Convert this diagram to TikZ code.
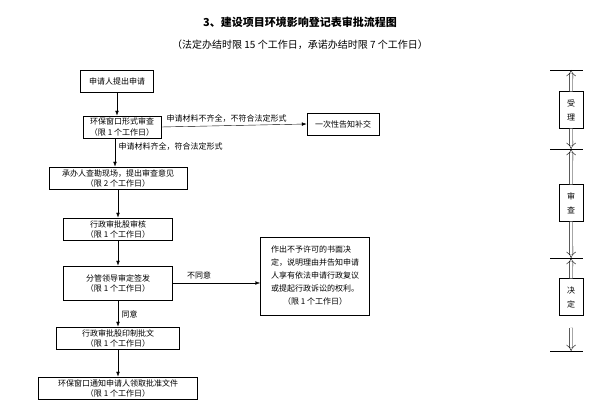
\documentclass[tikz,border=0pt]{standalone}
\usepackage{fontspec}
\setmainfont{Noto Sans CJK SC}
\usetikzlibrary{positioning, arrows, arrows.meta}

\begin{document}
\begin{tikzpicture}[x=1pt, y=-1pt, >=Latex, font=\fontsize{8}{10}\selectfont,
    box/.style={draw, thick, align=center, inner sep=2pt, minimum height=22pt},
    stagebox/.style={draw, align=center, minimum width=24pt, minimum height=37pt, inner sep=1pt},
    track/.style={double, double distance=3pt, thin, -{Implies}}]
  \useasboundingbox (0,0) rectangle (600,411);
  \node[font=\bfseries\fontsize{11}{13}\selectfont] (title) at (300,22) {3、建设项目环境影响登记表审批流程图};
  \node[font=\fontsize{10}{12}\selectfont] (sub) at (300,45) {（法定办结时限 15 个工作日，承诺办结时限 7 个工作日）};

  \node[box, minimum width=73pt] (0) at (117,81) {申请人提出申请};
  \node[box, minimum width=78pt] (1) at (122,127) {环保窗口形式审查\\（限 1 个工作日）};
  \node[box, minimum width=72pt] (r) at (343,124) {一次性告知补交};
  \node[box, minimum width=138pt] (2) at (118,178) {承办人查勘现场，提出审查意见\\（限 2 个工作日）};
  \node[box, minimum width=109pt] (3) at (118,229) {行政审批股审核\\（限 1 个工作日）};
  \node[box, minimum width=109pt, minimum height=34pt] (4) at (118,283) {分管领导审定签发\\（限 1 个工作日）};
  \node[box, minimum width=109pt, minimum height=78pt, align=left, font=\fontsize{8}{13}\selectfont] (n) at (315,276)
    {作出不予许可的书面决\\定，说明理由并告知申请\\人享有依法申请行政复议\\或提起行政诉讼的权利。\\\hspace*{1.5em}（限 1 个工作日）};
  \node[box, minimum width=123pt] (5) at (118,338) {行政审批股印制批文\\（限 1 个工作日）};
  \node[box, minimum width=159pt] (6) at (118,388) {环保窗口通知申请人领取批准文件\\（限 1 个工作日）};

  \path[->]
    (0.south) edge (0.south |- 1.north)
    (1.east) edge node[above, pos=0.45] {申请材料不齐全，不符合法定形式} (r.west)
    ([xshift=-7pt]1.south) edge node[right, pos=0.3] {申请材料齐全，符合法定形式} ([xshift=-3pt]2.north)
    (2) edge (3)
    (3) edge (4)
    (4.east) edge node[above, pos=0.3] {不同意} (n.west |- 4.east)
    (4) edge node[right, pos=0.55] {同意} (5)
    (5) edge (6)
  ;

  % stages
  \foreach \y [count=\i] in {70,149,258,351}
    \draw (550,\y) -- (583,\y) coordinate[pos=0.64] (h\i);
  \node[stagebox] (s1) at (571,110) {受\\[4pt]理};
  \node[stagebox] (s2) at (571,203) {审\\[4pt]查};
  \node[stagebox] (s3) at (571,297) {决\\[4pt]定};
  \coordinate (t) at (571,328);
  \draw[track] (s1) -- (h1);
  \draw[track] (s1) -- (h2);
  \draw[track] (s2) -- (h2);
  \draw[track] (s2) -- (h3);
  \draw[track] (s3) -- (h3);
  \draw[track] (t) -- (h4);
\end{tikzpicture}
\end{document}
